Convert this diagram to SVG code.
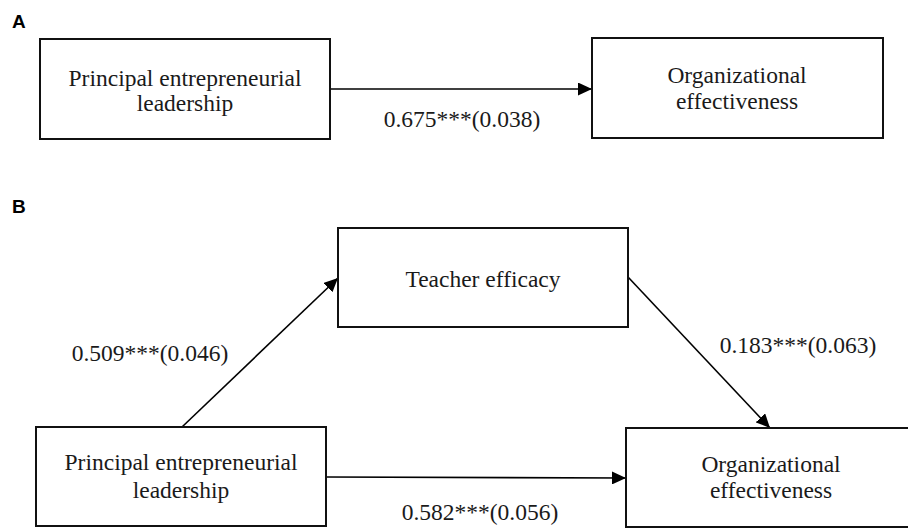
<svg xmlns="http://www.w3.org/2000/svg" width="908" height="528" viewBox="0 0 908 528">
  <style>
    .box { fill: #fff; stroke: #111; stroke-width: 2; }
    .lbl { font-family: "Liberation Serif", "Times New Roman", serif; font-size: 23.5px; fill: #1a1a1a; text-anchor: middle; }
    .panel { font-family: "Liberation Sans", Arial, sans-serif; font-size: 19px; font-weight: bold; fill: #000; }
    .edge { stroke: #000; stroke-width: 1.6; fill: none; marker-end: url(#arrow); }
  </style>
  <defs>
    <marker id="arrow" viewBox="0 0 14 13" refX="14" refY="6.5" markerWidth="14" markerHeight="13" markerUnits="userSpaceOnUse" orient="auto">
      <path d="M0,0 L14,6.5 L0,13 Z" fill="#000"/>
    </marker>
  </defs>
  <rect width="908" height="528" fill="#fff"/>

  <text class="panel" x="12" y="28">A</text>
  <text class="panel" x="12" y="213">B</text>

  <g id="connectors">
    <line class="edge" x1="330" y1="89" x2="592" y2="89"/>
    <text class="lbl" x="462" y="127">0.675***(0.038)</text>
    <line class="edge" x1="182" y1="427" x2="338" y2="278"/>
    <text class="lbl" x="150" y="361">0.509***(0.046)</text>
    <line class="edge" x1="628" y1="277" x2="770" y2="428"/>
    <text class="lbl" x="798" y="353">0.183***(0.063)</text>
    <line class="edge" x1="326" y1="477" x2="626" y2="478"/>
    <text class="lbl" x="480" y="520">0.582***(0.056)</text>
  </g>

  <g id="a-leadership">
    <rect class="box" x="40" y="39" width="290" height="100"/>
    <text class="lbl" x="185" y="86">Principal entrepreneurial</text>
    <text class="lbl" x="185" y="111">leadership</text>
  </g>
  <g id="a-effectiveness">
    <rect class="box" x="592" y="38" width="291" height="100"/>
    <text class="lbl" x="737" y="83">Organizational</text>
    <text class="lbl" x="737" y="109">effectiveness</text>
  </g>

  <g id="b-efficacy">
    <rect class="box" x="338" y="228" width="290" height="99"/>
    <text class="lbl" x="483" y="287">Teacher efficacy</text>
  </g>
  <g id="b-leadership">
    <rect class="box" x="36" y="427" width="290" height="99"/>
    <text class="lbl" x="181" y="470">Principal entrepreneurial</text>
    <text class="lbl" x="181" y="498">leadership</text>
  </g>
  <g id="b-effectiveness">
    <rect class="box" x="626" y="428" width="290" height="99"/>
    <text class="lbl" x="771" y="472">Organizational</text>
    <text class="lbl" x="771" y="498">effectiveness</text>
  </g>
</svg>
